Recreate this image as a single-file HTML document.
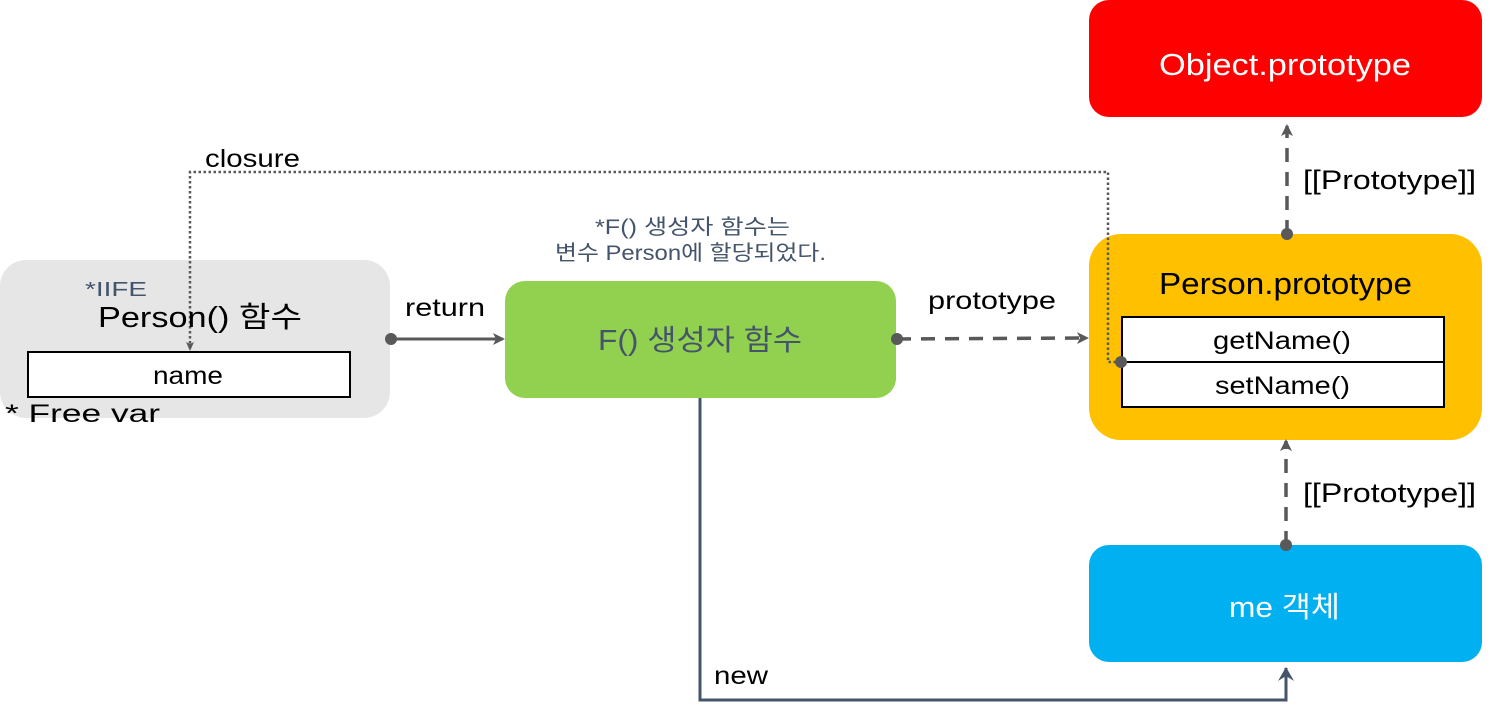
<!DOCTYPE html>
<html><head><meta charset="utf-8"><style>
html,body{margin:0;padding:0;background:#fff;}
svg{display:block;}
text{font-family:"Liberation Sans","Noto Sans CJK KR",sans-serif;}
</style></head><body>
<svg width="1494" height="706" viewBox="0 0 1494 706" xmlns="http://www.w3.org/2000/svg">
<defs>
<marker id="ah" markerWidth="14" markerHeight="14" refX="10" refY="6" orient="auto" markerUnits="userSpaceOnUse">
<path d="M0,0 L12,6 L0,12 L3,6 Z" fill="#595959"/></marker>
<marker id="ahs" markerWidth="12" markerHeight="12" refX="8" refY="4" orient="auto" markerUnits="userSpaceOnUse">
<path d="M0,0 L9,4 L0,8 L2,4 Z" fill="#595959"/></marker>
<marker id="ahb" markerWidth="16" markerHeight="18" refX="13" refY="8" orient="auto" markerUnits="userSpaceOnUse">
<path d="M0,0 L14,8 L0,16 L5,8 Z" fill="#44546a"/></marker>
</defs>

<rect x="0" y="260" width="390" height="158" rx="26" fill="#e6e6e6"/>
<rect x="28" y="352" width="322" height="45" fill="#fff" stroke="#000" stroke-width="2"/>
<rect x="505" y="281" width="391" height="117" rx="20" fill="#92d050"/>
<rect x="1089" y="0" width="393" height="117" rx="20" fill="#ff0000"/>
<rect x="1089" y="234" width="393" height="206" rx="32" fill="#ffc000"/>
<rect x="1122" y="317" width="322" height="45" fill="#fff" stroke="#000" stroke-width="2"/>
<rect x="1122" y="362" width="322" height="45" fill="#fff" stroke="#000" stroke-width="2"/>
<rect x="1089" y="545" width="393" height="117" rx="20" fill="#00b0f0"/>

<polyline points="1121,362 1108,362 1108,172 190,172 190,350" fill="none" stroke="#595959" stroke-width="2.5" stroke-dasharray="2.5,2.5" marker-end="url(#ahs)"/>
<circle cx="1121" cy="362" r="6" fill="#595959"/>

<line x1="391" y1="339" x2="503" y2="339" stroke="#595959" stroke-width="3" marker-end="url(#ah)"/>
<circle cx="391" cy="339" r="6" fill="#595959"/>

<line x1="897" y1="339" x2="1087" y2="338" stroke="#595959" stroke-width="3.5" stroke-dasharray="14,10" marker-end="url(#ah)"/>
<circle cx="897" cy="339" r="6" fill="#595959"/>

<line x1="1287" y1="234" x2="1287" y2="126" stroke="#595959" stroke-width="3.5" stroke-dasharray="14,10" marker-end="url(#ah)"/>
<circle cx="1287" cy="234" r="6" fill="#595959"/>
<line x1="1286" y1="545" x2="1286" y2="441" stroke="#595959" stroke-width="3.5" stroke-dasharray="14,10" marker-end="url(#ah)"/>
<circle cx="1286" cy="545" r="6" fill="#595959"/>

<polyline points="700,398 700,700 1286,700 1286,668" fill="none" stroke="#44546a" stroke-width="3" marker-end="url(#ahb)"/>

<text x="205" y="167" font-size="25" textLength="95" lengthAdjust="spacingAndGlyphs">closure</text>
<text x="85" y="296" font-size="20" fill="#44546a" textLength="62" lengthAdjust="spacingAndGlyphs">*IIFE</text>
<text x="98" y="327" font-size="29" textLength="204" lengthAdjust="spacingAndGlyphs">Person() 함수</text>
<text x="153" y="384" font-size="25" textLength="70" lengthAdjust="spacingAndGlyphs">name</text>
<text x="5" y="422" font-size="25" textLength="155" lengthAdjust="spacingAndGlyphs">* Free var</text>
<text x="405" y="316" font-size="25" textLength="80" lengthAdjust="spacingAndGlyphs">return</text>
<text x="595" y="234" font-size="21" fill="#44546a" textLength="195" lengthAdjust="spacingAndGlyphs">*F() 생성자 함수는</text>
<text x="555" y="260" font-size="21" fill="#44546a" textLength="271" lengthAdjust="spacingAndGlyphs">변수 Person에 할당되었다.</text>
<text x="598" y="350" font-size="29" fill="#44546a" textLength="204" lengthAdjust="spacingAndGlyphs">F() 생성자 함수</text>
<text x="928" y="309" font-size="25" textLength="128" lengthAdjust="spacingAndGlyphs">prototype</text>
<text x="1159" y="75" font-size="31" fill="#fff" textLength="252" lengthAdjust="spacingAndGlyphs">Object.prototype</text>
<text x="1303" y="189" font-size="27" textLength="173" lengthAdjust="spacingAndGlyphs">[[Prototype]]</text>
<text x="1159" y="294" font-size="31" textLength="253" lengthAdjust="spacingAndGlyphs">Person.prototype</text>
<text x="1213" y="349" font-size="25" textLength="138" lengthAdjust="spacingAndGlyphs">getName()</text>
<text x="1215" y="394" font-size="25" textLength="135" lengthAdjust="spacingAndGlyphs">setName()</text>
<text x="1303" y="502" font-size="27" textLength="173" lengthAdjust="spacingAndGlyphs">[[Prototype]]</text>
<text x="1229" y="617" font-size="29" fill="#fff" textLength="111" lengthAdjust="spacingAndGlyphs">me 객체</text>
<text x="714" y="684" font-size="25" textLength="54" lengthAdjust="spacingAndGlyphs">new</text>
</svg>
</body></html>
